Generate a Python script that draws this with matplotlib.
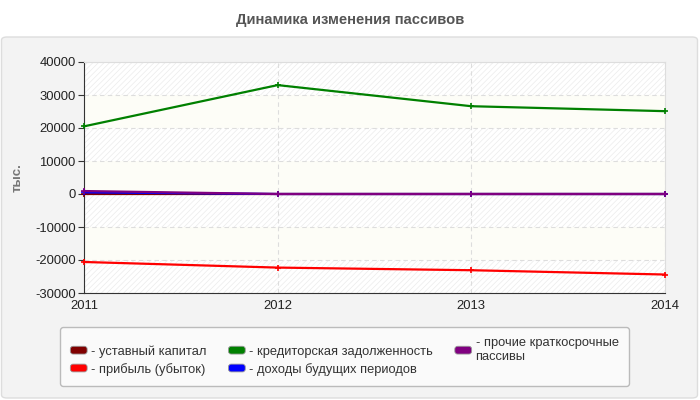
import numpy as np
import matplotlib
matplotlib.use('Agg')
import matplotlib.pyplot as plt
from matplotlib.patches import FancyBboxPatch, Patch
from matplotlib.legend_handler import HandlerPatch

plt.rcParams['font.family'] = ['Liberation Sans', 'DejaVu Sans']
plt.rcParams['hatch.linewidth'] = 0.5
plt.rcParams['axes.unicode_minus'] = False

# данные
years = [2011, 2012, 2013, 2014]
ustavny = [150, 150, 150, 150]
pribyl = [-20600, -22300, -23100, -24400]
kreditor = [20500, 33000, 26600, 25100]
dohody = [500, 0, 0, 0]
prochie = [900, 0, 0, 0]

names = ['уставный капитал', 'прибыль (убыток)', 'кредиторская задолженность',
         'доходы будущих периодов', 'прочие краткосрочные\nпассивы']
series = [ustavny, pribyl, kreditor, dohody, prochie]
colors_ = ['#800000', '#ff0000', '#008000', '#0000ff', '#800080']

fig = plt.figure(figsize=(7, 4), dpi=100)
fig.patch.set_facecolor('white')

# серая панель
panel = FancyBboxPatch((1.5 / 700, 2 / 400), 696 / 700, 361 / 400,
                       boxstyle='round,pad=0,rounding_size=0.008',
                       transform=fig.transFigure, facecolor='#f3f3f3',
                       edgecolor='#dddddd', linewidth=1, zorder=-5)
fig.patches.append(panel)

fig.text(0.5, 1 - 20 / 400, 'Динамика изменения пассивов', ha='center', va='center',
         fontsize=10.6, fontweight='bold', color='#555555')

ax = fig.add_axes([84 / 700, 1 - 293 / 400, 581 / 700, 231 / 400])
ax.set_zorder(2)
ax.set_facecolor('white')
ax.set_xlim(2011, 2014)
ax.set_ylim(-30000, 40000)

# полосы фона
edges = np.arange(-30000, 40001, 10000)
for i in range(len(edges) - 1):
    lo, hi = edges[i], edges[i + 1]
    if i % 2 == 0:
        ax.axhspan(lo, hi, facecolor='white', hatch='//////', edgecolor='#ebebeb',
                   linewidth=0, zorder=0)
    else:
        ax.axhspan(lo, hi, facecolor='#fdfdf7', linewidth=0, zorder=0)

ax.set_yticks(edges)
ax.set_xticks(years)
ax.set_xticklabels([str(y) for y in years])
ax.grid(True, linestyle=(0, (4, 3)), color='#dddddd', linewidth=0.8, zorder=1)

for s, c in zip(series, colors_):
    ax.plot(years, s, color=c, linewidth=1.6, marker='+', markersize=4,
            markeredgewidth=1.2, zorder=3, clip_on=False)

ax.spines['top'].set_color('#dddddd')
ax.spines['right'].set_color('#dddddd')
ax.spines['left'].set_color('#333333')
ax.spines['bottom'].set_color('#333333')
ax.tick_params(axis='y', length=4, labelsize=9.4, color='#333333', labelcolor='#222222', pad=2)
ax.tick_params(axis='x', length=0, labelsize=9.4, labelcolor='#222222', pad=5)

fig.text(18 / 700, 1 - 178 / 400, 'тыс.', rotation=90, ha='center', va='center',
         fontsize=9.5, fontweight='bold', color='#777777')


def rounded(legend, orig_handle, xdescent, ydescent, width, height, fontsize):
    return FancyBboxPatch((-xdescent, -ydescent), width, height,
                          boxstyle='round,pad=0,rounding_size=2')


handles = [Patch(facecolor=c, edgecolor='#999999', linewidth=0.6) for c in colors_]
leg = fig.legend(handles, ['- ' + n for n in names], ncol=3,
                 loc='upper left', bbox_to_anchor=(60 / 700, 1 - 327 / 400),
                 borderaxespad=0,
                 fontsize=9.3, frameon=True, fancybox=True, handlelength=1.3,
                 handleheight=0.55, handletextpad=0.3, columnspacing=1.7,
                 labelspacing=0.38, borderpad=0.8, labelcolor='#333333',
                 handler_map={Patch: HandlerPatch(patch_func=rounded)})
leg.get_frame().set_facecolor('#fafafa')
leg.get_frame().set_edgecolor('#bbbbbb')
leg.get_frame().set_alpha(1)

fig.savefig('out.png', dpi=100)
